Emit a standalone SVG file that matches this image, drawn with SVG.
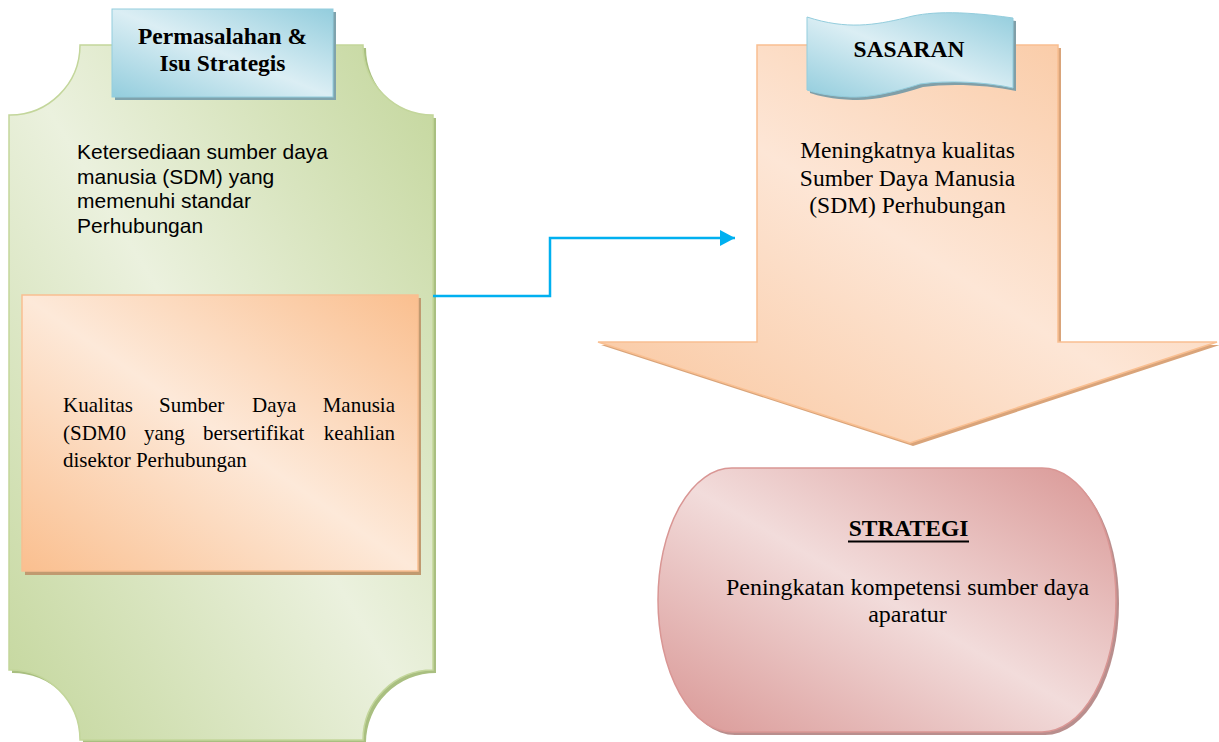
<svg xmlns="http://www.w3.org/2000/svg" width="1219" height="742" viewBox="0 0 1219 742">
<defs>
<linearGradient id="gGreen" x1="0" y1="1" x2="1" y2="0"><stop offset="0" stop-color="#c3d69b"/><stop offset="0.5" stop-color="#ebf1de"/><stop offset="1" stop-color="#c3d69b"/></linearGradient>
<linearGradient id="gOrange" x1="0" y1="1" x2="1" y2="0"><stop offset="0" stop-color="#fabf8f"/><stop offset="0.5" stop-color="#fde9d9"/><stop offset="1" stop-color="#fabf8f"/></linearGradient>
<linearGradient id="gArrow" x1="0" y1="1" x2="1" y2="0"><stop offset="0" stop-color="#f9c49a"/><stop offset="0.5" stop-color="#fde6d6"/><stop offset="1" stop-color="#f9c49a"/></linearGradient>
<linearGradient id="gBlue" x1="0" y1="1" x2="1" y2="0"><stop offset="0" stop-color="#93cddd"/><stop offset="0.5" stop-color="#dbeef4"/><stop offset="1" stop-color="#93cddd"/></linearGradient>
<linearGradient id="gPink" x1="0" y1="1" x2="1" y2="0"><stop offset="0" stop-color="#d99694"/><stop offset="0.5" stop-color="#f2dcdb"/><stop offset="1" stop-color="#d99694"/></linearGradient>
<marker id="arr" markerWidth="15" markerHeight="16" refX="15" refY="8" orient="auto" markerUnits="userSpaceOnUse" viewBox="0 0 15 16"><path d="M0,0 L15,8 L0,16 Z" fill="#00b0f0"/></marker>
<style>
.serif{font-family:"Liberation Serif","Times New Roman",serif;fill:#000}
.sans{font-family:"Liberation Sans",Arial,sans-serif;fill:#000}
.bold{font-weight:bold}
.mid{text-anchor:middle}
</style>
</defs>

<g id="node-permasalahan">
<path d="M83,48 L366,48 A70,70 0 0 0 436,118 L436,673 A70,70 0 0 0 366,743 L83,743 A70,70 0 0 0 12,673 L12,118 A70,70 0 0 0 83,48 Z" fill="#a9bf80"/>
<path d="M80,45 L363,45 A70,70 0 0 0 433,115 L433,670 A70,70 0 0 0 363,740 L80,740 A70,70 0 0 0 9,670 L9,115 A70,70 0 0 0 80,45 Z" fill="url(#gGreen)" stroke="#c3d69b" stroke-width="1.5"/>
<text class="sans" font-size="21"><tspan x="77" y="159">Ketersediaan sumber daya</tspan><tspan x="77" y="183.5">manusia (SDM) yang</tspan><tspan x="77" y="208">memenuhi standar</tspan><tspan x="77" y="232.5">Perhubungan</tspan></text>
</g>

<g id="node-judul-permasalahan">
<rect x="115" y="12" width="221" height="88" fill="#7fa3ad"/>
<rect x="112" y="9" width="221" height="88" fill="url(#gBlue)" stroke="#93cddd" stroke-width="1"/>
<text class="serif bold mid" font-size="23.5"><tspan x="222.5" y="44">Permasalahan &amp;</tspan><tspan x="222.5" y="71">Isu Strategis</tspan></text>
</g>

<g id="node-kualitas">
<rect x="25" y="298" width="396" height="277" fill="#c09a70"/>
<rect x="22" y="295" width="396" height="276" fill="url(#gOrange)" stroke="#f9bf91" stroke-width="1.5"/>
<g class="serif" font-size="21">
<text x="63" y="412">Kualitas</text><text x="159" y="412">Sumber</text><text x="252" y="412">Daya</text><text x="395" y="412" text-anchor="end">Manusia</text>
<text x="63" y="440">(SDM0</text><text x="144" y="440">yang</text><text x="203" y="440">bersertifikat</text><text x="395" y="440" text-anchor="end">keahlian</text>
<text x="63" y="467">disektor Perhubungan</text>
</g>
</g>

<g id="node-sasaran">
<path d="M760,48 L1061,48 L1061,345 L1220,345 L913,446 L601,345 L760,345 Z" fill="#d9a47a"/>
<path d="M757,45 L1058,45 L1058,342 L1217,342 L910,443 L598,342 L757,342 Z" fill="url(#gArrow)" stroke="#f9bf91" stroke-width="1.5"/>
<text class="serif mid" font-size="23.5"><tspan x="907.5" y="158">Meningkatnya kualitas</tspan><tspan x="907.5" y="186">Sumber Daya Manusia</tspan><tspan x="907.5" y="213">(SDM) Perhubungan</tspan></text>
</g>

<g id="node-judul-sasaran">
<path d="M810,20 C850,33 878,28 908,21 C928,15 960,13 1016,21 L1016,91 C990,85 950,83 923,87 C898,95 872,101 853,100 C833,99 818,96 810,93 Z" fill="#809fa8"/>
<path d="M807,17 C847,30 875,25 905,18 C925,12 957,10 1013,18 L1013,88 C987,82 947,80 920,84 C895,92 869,98 850,97 C830,96 815,93 807,90 Z" fill="url(#gBlue)" stroke="#93cddd" stroke-width="1"/>
<text class="serif bold mid" font-size="23.5" x="909" y="57">SASARAN</text>
</g>

<g id="node-strategi">
<rect x="661" y="471" width="458" height="264" rx="74" ry="132" fill="#b98e8d"/>
<rect x="658" y="468" width="458" height="264" rx="74" ry="132" fill="url(#gPink)" stroke="#d99694" stroke-width="1.5"/>
<text class="serif bold mid" font-size="23.5" x="908.5" y="536">STRATEGI</text>
<line x1="848" y1="541.5" x2="969" y2="541.5" stroke="#000" stroke-width="2"/>
<text class="serif mid" font-size="24"><tspan x="907.5" y="595">Peningkatan kompetensi sumber daya</tspan><tspan x="907.5" y="622">aparatur</tspan></text>
</g>

<g id="connectors">
<polyline points="433,296 550,296 550,238 735,238" fill="none" stroke="#00b0f0" stroke-width="2.5" marker-end="url(#arr)"/>
</g>
</svg>
